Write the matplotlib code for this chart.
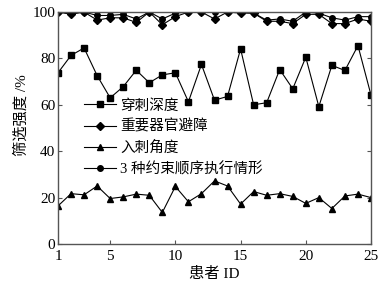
import matplotlib
matplotlib.use("Agg")
import matplotlib.pyplot as plt

# 患者编号
patients = list(range(1, 26))

# 各约束的筛选强度 (%)
depth = [73.8, 81.3, 84.5, 72.6, 63.0, 67.8, 74.9, 69.5, 72.9, 73.8,
         61.3, 77.4, 62.0, 63.6, 84.1, 60.0, 60.9, 75.2, 66.9, 80.5,
         59.2, 77.0, 74.8, 85.5, 64.2]
organ = [100, 99, 100, 96.5, 97.5, 97.5, 95.5, 100, 94.5, 98,
         100, 100, 97, 100, 99.5, 99.5, 96, 96, 95, 99,
         99, 95, 95, 97, 96]
angle = [16.4, 21.7, 21.2, 25.0, 19.6, 20.3, 21.5, 21.0, 13.6, 24.8,
         18.2, 21.7, 27.2, 25.0, 17.2, 22.6, 21.0, 21.7, 20.5, 17.5,
         20.0, 15.3, 20.7, 21.5, 20.0]
seq = [100, 99.5, 100, 98.5, 98.5, 99, 97, 100, 97, 99.5,
       100, 100, 100, 100, 100, 99.5, 96.5, 97, 96, 100,
       99.5, 97.5, 96.5, 98, 98]

labels = ["穿刺深度", "重要器官避障", "入刺角度", "3 种约束顺序执行情形"]
xticks = [1, 5, 10, 15, 20, 25]
yticks = [0, 20, 40, 60, 80, 100]

plt.rcParams['font.family'] = ['Liberation Serif', 'Noto Sans CJK SC']

fig = plt.figure(figsize=(3.9, 2.91), dpi=100)
ax = fig.add_axes([58 / 390, 47 / 291, 313 / 390, 232 / 291])

kw = dict(color='black', linewidth=0.8)
ax.plot(patients, depth, marker='s', markersize=4, label=labels[0], **kw)
ax.plot(patients, organ, marker='D', markersize=4, label=labels[1], **kw)
ax.plot(patients, angle, marker='^', markersize=5, label=labels[2], **kw)
ax.plot(patients, seq, marker='o', markersize=4, label=labels[3], **kw)

ax.set_xlim(1, 25)
ax.set_ylim(0, 100)
ax.set_xticks(xticks)
ax.set_yticks(yticks)
ax.tick_params(direction='in', top=True, right=True, length=3, labelsize=11,
               color='#555555', pad=2)
ax.tick_params(axis='x', pad=4)
for s in ax.spines.values():
    s.set_linewidth(1.0)
    s.set_color('#555555')

ax.set_xlabel("患者 ID", fontsize=11, labelpad=3)
ax.set_ylabel("筛选强度 /%", fontsize=11)
ax.yaxis.set_label_coords(-0.095, 0.556)

ax.legend(loc='upper left', bbox_to_anchor=(0.05, 0.67), frameon=False,
          fontsize=10.5, handlelength=2.2, labelspacing=0.48, borderpad=0.2,
          handletextpad=0.3)

fig.savefig("out.png", dpi=100)
